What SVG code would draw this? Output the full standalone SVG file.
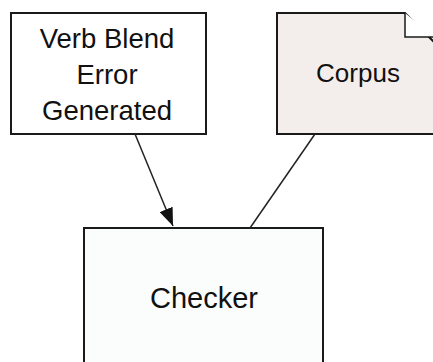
<svg xmlns="http://www.w3.org/2000/svg" width="433" height="362" viewBox="0 0 433 362">
<style>
.box{stroke:#1a1a1a;stroke-width:2}
.lbl{font-family:"Liberation Sans",Arial,sans-serif;font-size:28px;fill:#111;text-anchor:middle}
.edge{stroke:#222;stroke-width:1.5;fill:none}
</style>
<defs>
<marker id="arr" viewBox="0 0 18 14" refX="18" refY="7" markerWidth="18" markerHeight="14" markerUnits="userSpaceOnUse" orient="auto">
<path d="M0,0 L18,7 L0,14 z" fill="#111"/>
</marker>
</defs>
<rect width="433" height="362" fill="#fff"/>
<g id="verb">
<rect class="box" x="11" y="13" width="195" height="121" fill="#fff"/>
<text class="lbl" x="107" y="48" style="font-size:27.5px">Verb Blend</text>
<text class="lbl" x="107" y="84" style="font-size:27.5px">Error</text>
<text class="lbl" x="107" y="120" style="font-size:27.5px">Generated</text>
</g>
<g id="corpus">
<path class="box" d="M277,13 L405,13 L435,43 L435,134 L277,134 Z" fill="#f3eeec"/>
<path d="M405,13 L405,37 L435,37" fill="#fff" stroke="#1a1a1a" stroke-width="1.5"/>
<text class="lbl" x="358" y="82" style="font-size:26px">Corpus</text>
</g>
<g id="checker">
<rect class="box" x="84" y="228" width="239" height="140" fill="#fbfdfc"/>
<text class="lbl" x="204" y="308" style="font-size:29px">Checker</text>
</g>
<g id="edges">
<line class="edge" x1="135" y1="134" x2="173" y2="226" marker-end="url(#arr)"/>
<line class="edge" x1="315" y1="134" x2="250" y2="228"/>
</g>
</svg>
